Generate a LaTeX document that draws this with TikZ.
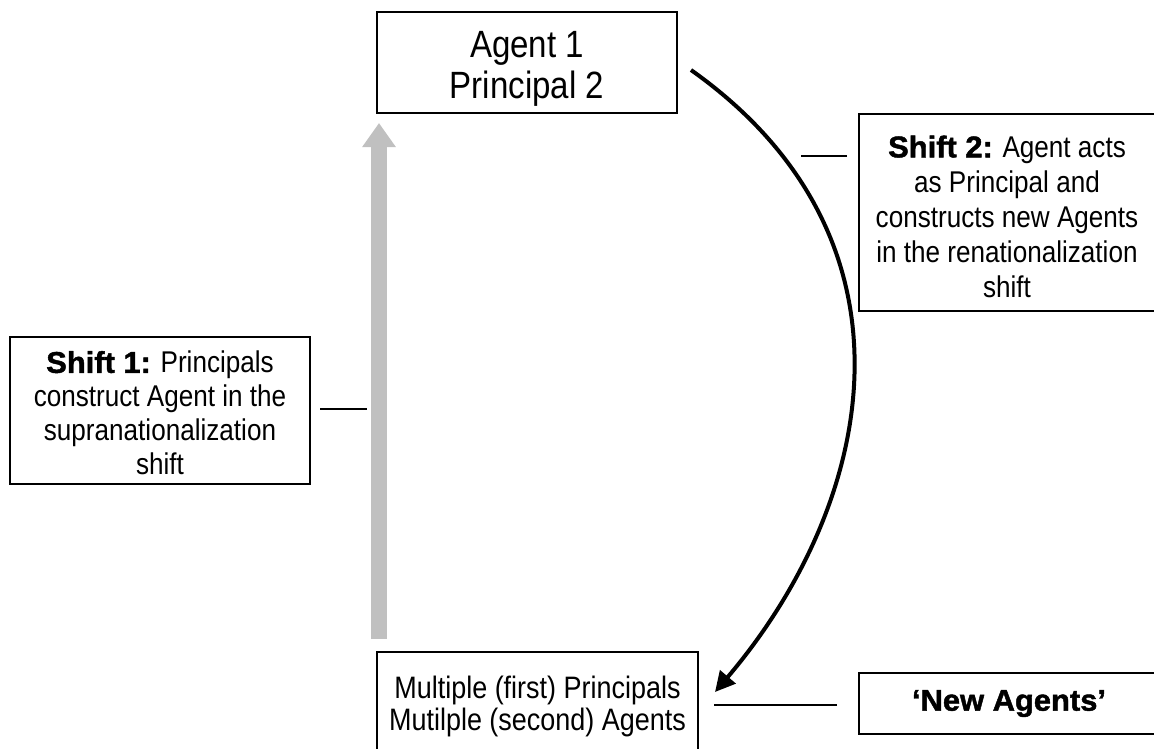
\documentclass[tikz,border=0pt]{standalone}
\usepackage{fontspec}
\setmainfont{Liberation Sans}
\newfontfamily\bodyfont{Liberation Sans}[FakeStretch=0.87]
\newfontfamily\heavy{Liberation Sans Bold}[FakeBold=1.5,FakeStretch=1.03]
\usetikzlibrary{arrows.meta,calc}
\definecolor{arrowgray}{RGB}{192,192,192}
\tikzset{
  box/.style={draw=black, line width=2pt, inner sep=0pt, align=center, rectangle},
  txt/.style={font=\bodyfont\fontsize{30}{35}\selectfont},
  dashline/.style={line width=2.5pt},
  curvearrow/.style={line width=4pt, -{Triangle[length=20pt,width=20pt]}},
  grayarrow/.style={line width=16pt, draw=arrowgray, -{Triangle[length=24pt,width=32pt]}},
}
\begin{document}
\begin{tikzpicture}[x=1pt,y=-1pt]
\useasboundingbox (0,0) rectangle (1154,748);
\fill[white] (0,0) rectangle (1154,748);
\clip (0,0) rectangle (1154,748);
% boxes
\node[box, minimum width=300, minimum height=101, font=\bodyfont\fontsize{38}{41}\selectfont] (top) at (527,62.5) {\rule{0pt}{38pt}Agent 1\\Principal 2};
\node[box, txt, minimum width=296, minimum height=197] (s2) at (1007,212.5) {\rule{0pt}{30pt}{\heavy Shift 2:} Agent acts\\as Principal and\\constructs new Agents\\in the renationalization\\shift};
\node[box, txt, minimum width=300, minimum height=147, font=\bodyfont\fontsize{30}{34}\selectfont] (s1) at (160,410.5) {\rule{0pt}{27pt}{\heavy Shift 1:} Principals\\construct Agent in the\\supranationalization\\shift};
\node[box, minimum width=321, minimum height=104, font=\bodyfont\fontsize{31}{32}\selectfont] (bot) at (537.5,704) {\rule{0pt}{27pt}Multiple (first) Principals\\Mutilple (second) Agents};
\node[box, txt, minimum width=300, minimum height=61] (na) at (1009,703.5) {\heavy ‘New Agents’};
% gray arrow
\coordinate (g1) at ($(bot.north west)+(3,-12)$);
\coordinate (g2) at ($(top.south west)+(3,9)$);
\draw[grayarrow] (g1) -- (g2);
% curved arrow
\coordinate (arcS) at ([shift={(13,7.5)}]top.east);
\coordinate (arcE) at ([shift={(16,-12)}]bot.east);
\draw[curvearrow] (arcS) .. controls +(240,170) and +(160,-188) .. (arcE);
% short lines
\draw[dashline] ([shift={(9,-1.5)}]s1.east) -- ++(47,0);
\draw[dashline] ([shift={(-11,43)}]s2.north west) -- ++(-46,0);
\draw[dashline] ([shift={(-21,1.5)}]na.west) -- ++(-123,0);
\end{tikzpicture}
\end{document}
